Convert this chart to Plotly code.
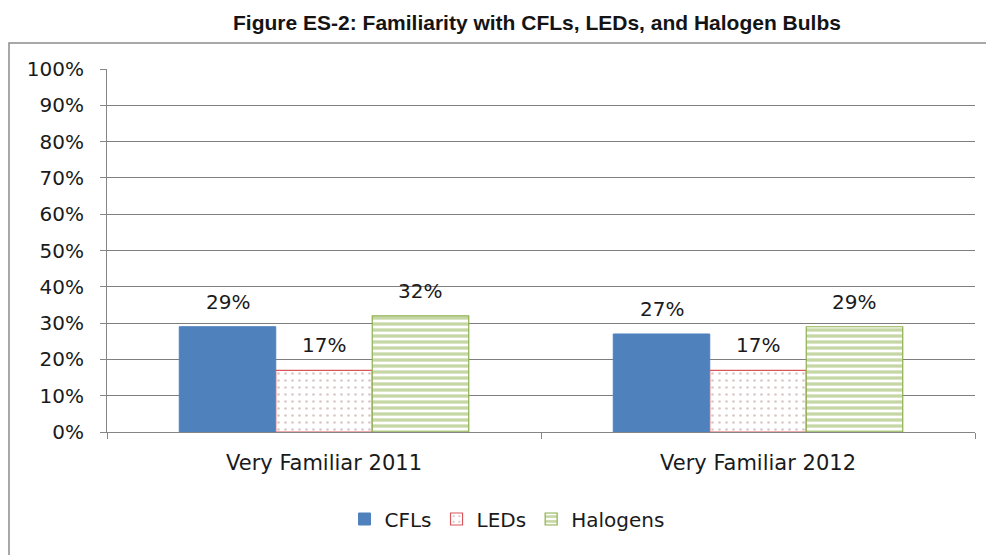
import plotly.graph_objects as go

categories = ["Very Familiar 2011", "Very Familiar 2012"]
series_names = ["CFLs", "LEDs", "Halogens"]
cfl_values = [0.29, 0.27]
led_values = [0.17, 0.17]
halogen_values = [0.32, 0.29]
y_ticks = [i / 10 for i in range(11)]
y_tick_labels = [f"{i*10}%" for i in range(11)]

series_values = [cfl_values, led_values, halogen_values]

BODY_FONT = "DejaVu Sans, sans-serif"
TEXT_COLOR = "#1a1a1a"

styles = [
    dict(color="#4F81BD", line=dict(color="#4F81BD", width=1)),
    dict(color="white", line=dict(color="#D9575A", width=1.2),
         pattern=dict(shape=".", fgcolor="#B89090", bgcolor="white", size=7, solidity=0.12)),
    dict(color="white", line=dict(color="#8DB04E", width=1.2),
         pattern=dict(shape="-", fgcolor="#8DB04E", bgcolor="white", size=6, solidity=0.55)),
]

fig = go.Figure()
for name, vals, st in zip(series_names, series_values, styles):
    fig.add_trace(go.Bar(name=name, x=categories, y=vals, marker=st))

bargap = 0.333
n = len(series_names)
bw = (1 - bargap) / n
annotations = []
for si, vals in enumerate(series_values):
    off = (si - (n - 1) / 2) * bw
    for ci, v in enumerate(vals):
        annotations.append(dict(
            x=ci + off, y=v, xref="x", yref="y", text=f"{round(v*100)}%",
            showarrow=False, yanchor="middle", yshift=25,
            font=dict(family=BODY_FONT, size=20, color=TEXT_COLOR)))

# page is rendered with an 8px body margin; work in page pixels
OFF = 8
PAGE_W, PAGE_H = 994, 555
W, H = PAGE_W - OFF, PAGE_H - OFF
plot_l, plot_r, plot_t, plot_b = 107, 975, 69, 432
ml, mr = plot_l - OFF, W - (plot_r - OFF)
mt, mb = plot_t - OFF, H - (plot_b - OFF)
pw, ph = W - ml - mr, H - mt - mb

def px_to_paper_x(px):
    return (px - OFF - ml) / pw

def px_to_paper_y(py):
    return (H - mb - (py - OFF)) / ph

fig.update_layout(
    width=W, height=H,
    margin=dict(l=ml, r=mr, t=mt, b=mb),
    paper_bgcolor="white", plot_bgcolor="white",
    barmode="group", bargap=bargap, bargroupgap=0,
    title=dict(text="<b>Figure ES-2: Familiarity with CFLs, LEDs, and Halogen Bulbs</b>",
               x=(537 - OFF) / W, xref="container", xanchor="center",
               y=1 - (23 - OFF) / H, yanchor="middle",
               font=dict(family="Liberation Sans, Arial, sans-serif",
                         size=21, color="#141414")),
    xaxis=dict(type="category", showgrid=False, showline=True, linecolor="#868686", linewidth=1,
               ticks="outside", tickson="boundaries", ticklen=6, tickcolor="#868686",
               ticklabelstandoff=12,
               tickfont=dict(family=BODY_FONT, size=21, color=TEXT_COLOR), range=[-0.5, 1.5]),
    yaxis=dict(range=[0, 1], tickvals=y_ticks, ticktext=y_tick_labels,
               showgrid=True, gridcolor="#7F7F7F", gridwidth=1,
               showline=True, linecolor="#868686", linewidth=1,
               ticks="outside", ticklen=6, tickcolor="#868686",
               ticklabelstandoff=12,
               tickfont=dict(family=BODY_FONT, size=20, color=TEXT_COLOR), zeroline=False),
    legend=dict(orientation="h", x=px_to_paper_x(507), xanchor="center",
                y=px_to_paper_y(519), yanchor="middle",
                font=dict(family=BODY_FONT, size=20, color=TEXT_COLOR),
                itemwidth=30, tracegroupgap=0),
    annotations=annotations,
    shapes=[dict(type="rect", xref="paper", yref="paper",
                 x0=px_to_paper_x(9), x1=px_to_paper_x(993),
                 y0=px_to_paper_y(556), y1=px_to_paper_y(43),
                 line=dict(color="#8C8C8C", width=1.5), fillcolor="rgba(0,0,0,0)", layer="below")],
)

fig.write_html("out.html")
